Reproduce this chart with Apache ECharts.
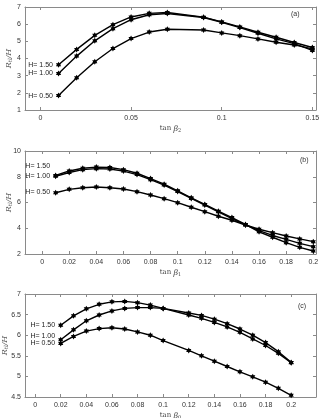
<!DOCTYPE html>
<html>
<head>
<meta charset="utf-8">
<script src="https://cdn.jsdelivr.net/npm/echarts@6/dist/echarts.min.js"></script>
<style>
html, body { margin: 0; padding: 0; background: #fff; }
#chart { width: 320px; height: 418px; }
</style>
</head>
<body>
<div id="chart"></div>
<script>
// panel (a): tan beta2
const xA = [0.01, 0.02, 0.03, 0.04, 0.05, 0.06, 0.07, 0.09, 0.10, 0.11, 0.12, 0.13, 0.14, 0.15];
const aH150 = [3.64, 4.53, 5.35, 5.97, 6.42, 6.63, 6.68, 6.41, 6.13, 5.84, 5.53, 5.24, 4.93, 4.64];
const aH100 = [3.13, 4.14, 5.03, 5.74, 6.26, 6.55, 6.62, 6.39, 6.11, 5.80, 5.47, 5.14, 4.87, 4.47];
const aH050 = [1.84, 2.88, 3.81, 4.58, 5.16, 5.54, 5.70, 5.66, 5.49, 5.33, 5.14, 4.95, 4.79, 4.56];
const xTicksA = [0, 0.05, 0.1, 0.15];

// panel (b): tan beta1
const xB = [0.01, 0.02, 0.03, 0.04, 0.05, 0.06, 0.07, 0.08, 0.09, 0.10, 0.11, 0.12, 0.13, 0.14, 0.15, 0.16, 0.17, 0.18, 0.19, 0.20];
const bH150 = [8.10, 8.45, 8.66, 8.75, 8.72, 8.55, 8.27, 7.86, 7.42, 6.91, 6.36, 5.85, 5.33, 4.83, 4.30, 3.72, 3.30, 2.88, 2.52, 2.23];
const bH100 = [8.03, 8.33, 8.55, 8.63, 8.60, 8.44, 8.17, 7.77, 7.35, 6.85, 6.32, 5.80, 5.28, 4.74, 4.27, 3.82, 3.44, 3.14, 2.83, 2.57];
const bH050 = [6.76, 7.02, 7.15, 7.20, 7.15, 7.05, 6.84, 6.58, 6.30, 5.99, 5.63, 5.29, 4.93, 4.62, 4.25, 3.92, 3.66, 3.40, 3.17, 2.96];
const xTicksB = [0, 0.02, 0.04, 0.06, 0.08, 0.1, 0.12, 0.14, 0.16, 0.18, 0.2];

// panel (c): tan beta0
const xC = [0.02, 0.03, 0.04, 0.05, 0.06, 0.07, 0.08, 0.09, 0.10, 0.12, 0.13, 0.14, 0.15, 0.16, 0.17, 0.18, 0.19, 0.20];
const cH150 = [6.24, 6.47, 6.64, 6.75, 6.81, 6.82, 6.79, 6.73, 6.65, 6.54, 6.48, 6.39, 6.28, 6.15, 6.00, 5.82, 5.60, 5.34];
const cH100 = [5.89, 6.13, 6.35, 6.49, 6.59, 6.65, 6.67, 6.67, 6.65, 6.49, 6.41, 6.31, 6.20, 6.07, 5.91, 5.75, 5.56, 5.33];
const cH050 = [5.80, 5.97, 6.10, 6.16, 6.18, 6.15, 6.08, 6.00, 5.87, 5.63, 5.50, 5.37, 5.24, 5.11, 4.99, 4.86, 4.71, 4.54];
const xTicksC = [0, 0.02, 0.04, 0.06, 0.08, 0.1, 0.12, 0.14, 0.16, 0.18, 0.2];

const hexagram = 'path://M100,0 L128.9,50 L186.6,50 L157.7,100 L186.6,150 L128.9,150 L100,200 L71.1,150 L13.4,150 L42.3,100 L13.4,50 L71.1,50 Z';
const axisColor = '#8a8a8a';
const labelColor = '#333';

const chart = echarts.init(document.getElementById('chart'));

// fixed plot boxes, no auto-fit to labels
const grids = [
    { left: 25, right: 4, top: 7, height: 103, containLabel: false, outerBoundsMode: 'none' },
    { left: 25, right: 4, top: 151, height: 103, containLabel: false, outerBoundsMode: 'none' },
    { left: 25, right: 4, top: 294, height: 103, containLabel: false, outerBoundsMode: 'none' }
];

const fmt = v => String(+(+v).toFixed(3));

const makeX = (gi, min, max, ticks, sub) => [
    {
        type: 'value', gridIndex: gi, position: 'bottom', min: min, max: max,
        name: '{n|tan }{b|β}{s|' + sub + '}', nameLocation: 'middle', nameGap: 14, nameMoveOverlap: false,
        nameTextStyle: {
            rich: {
                n: { fontFamily: 'DejaVu Serif', fontSize: 7, color: '#444' },
                b: { fontFamily: 'DejaVu Serif', fontStyle: 'italic', fontSize: 8, color: '#444' },
                s: { fontFamily: 'DejaVu Serif', fontSize: 5, color: '#444', verticalAlign: 'bottom', padding: [4, 0, 0, 0] }
            }
        },
        axisLine: { show: true, onZero: false, lineStyle: { color: axisColor, width: 1 } },
        axisTick: { show: true, inside: true, length: 3, customValues: ticks, lineStyle: { color: axisColor } },
        axisLabel: { customValues: ticks, formatter: fmt, fontSize: 7, color: labelColor, margin: 5, fontFamily: 'Liberation Sans' },
        splitLine: { show: false }
    },
    {
        type: 'value', gridIndex: gi, position: 'top', min: min, max: max,
        axisLine: { show: true, onZero: false, lineStyle: { color: axisColor, width: 1 } },
        axisTick: { show: true, inside: true, length: 3, customValues: ticks, lineStyle: { color: axisColor } },
        axisLabel: { show: false },
        splitLine: { show: false }
    }
];

const makeY = (gi, min, max, interval, gap) => [
    {
        type: 'value', gridIndex: gi, position: 'left', min: min, max: max, interval: interval,
        name: '{r|R}{s|tl}{r|/H}', nameLocation: 'middle', nameGap: gap, nameRotate: 90, nameMoveOverlap: false,
        nameTextStyle: {
            rich: {
                r: { fontFamily: 'DejaVu Serif', fontStyle: 'italic', fontSize: 8, color: '#555' },
                s: { fontFamily: 'DejaVu Serif', fontStyle: 'italic', fontSize: 5.5, color: '#555', padding: [4, 0, 0, 0] }
            }
        },
        axisLine: { show: true, onZero: false, lineStyle: { color: axisColor, width: 1 } },
        axisTick: { show: true, inside: true, length: 3, lineStyle: { color: axisColor } },
        axisLabel: { fontSize: 7, color: labelColor, margin: 4, fontFamily: 'Liberation Sans' },
        splitLine: { show: false }
    },
    {
        type: 'value', gridIndex: gi, position: 'right', min: min, max: max, interval: interval,
        axisLine: { show: true, onZero: false, lineStyle: { color: axisColor, width: 1 } },
        axisTick: { show: true, inside: true, length: 3, lineStyle: { color: axisColor } },
        axisLabel: { show: false },
        splitLine: { show: false }
    }
];

const makeSeries = (gi, xs, ys, tag, dy) => ({
    type: 'line',
    xAxisIndex: gi * 2,
    yAxisIndex: gi * 2,
    data: xs.map((x, i) => i === 0 ? {
        value: [x, ys[i]],
        label: {
            show: true, position: 'left', distance: 3, offset: [0, dy],
            formatter: tag, fontSize: 7, color: '#222', fontFamily: 'Liberation Sans'
        }
    } : [x, ys[i]]),
    symbol: hexagram,
    symbolKeepAspect: true,
    symbolSize: 6,
    showSymbol: true,
    itemStyle: { color: '#000' },
    lineStyle: { color: '#000', width: 1.4 },
    animation: false
});

const panelTag = (text, left, top) => ({
    text: text, left: left, top: top, padding: 0,
    textStyle: { fontSize: 7, fontWeight: 'normal', color: '#333', fontFamily: 'Liberation Sans' }
});

chart.setOption({
    animation: false,
    title: [panelTag('(a)', 291, 11), panelTag('(b)', 300, 157), panelTag('(c)', 298, 303)],
    grid: grids,
    xAxis: [
        ...makeX(0, -0.0085, 0.152, xTicksA, '2'),
        ...makeX(1, -0.0126, 0.202, xTicksB, '1'),
        ...makeX(2, -0.0079, 0.2194, xTicksC, '0')
    ],
    yAxis: [
        ...makeY(0, 1, 7, 1, 11),
        ...makeY(1, 2, 10, 2, 11),
        ...makeY(2, 4.5, 7, 0.5, 15)
    ],
    series: [
        makeSeries(0, xA, aH150, 'H= 1.50', 0),
        makeSeries(0, xA, aH100, 'H= 1.00', 0),
        makeSeries(0, xA, aH050, 'H= 0.50', 0),
        makeSeries(1, xB, bH150, 'H= 1.50', -9),
        makeSeries(1, xB, bH100, 'H= 1.00', 0),
        makeSeries(1, xB, bH050, 'H= 0.50', -1),
        makeSeries(2, xC, cH150, 'H= 1.50', 0),
        makeSeries(2, xC, cH100, 'H= 1.00', -4),
        makeSeries(2, xC, cH050, 'H= 0.50', 0)
    ]
});

window.addEventListener('resize', () => chart.resize());
</script>
</body>
</html>
